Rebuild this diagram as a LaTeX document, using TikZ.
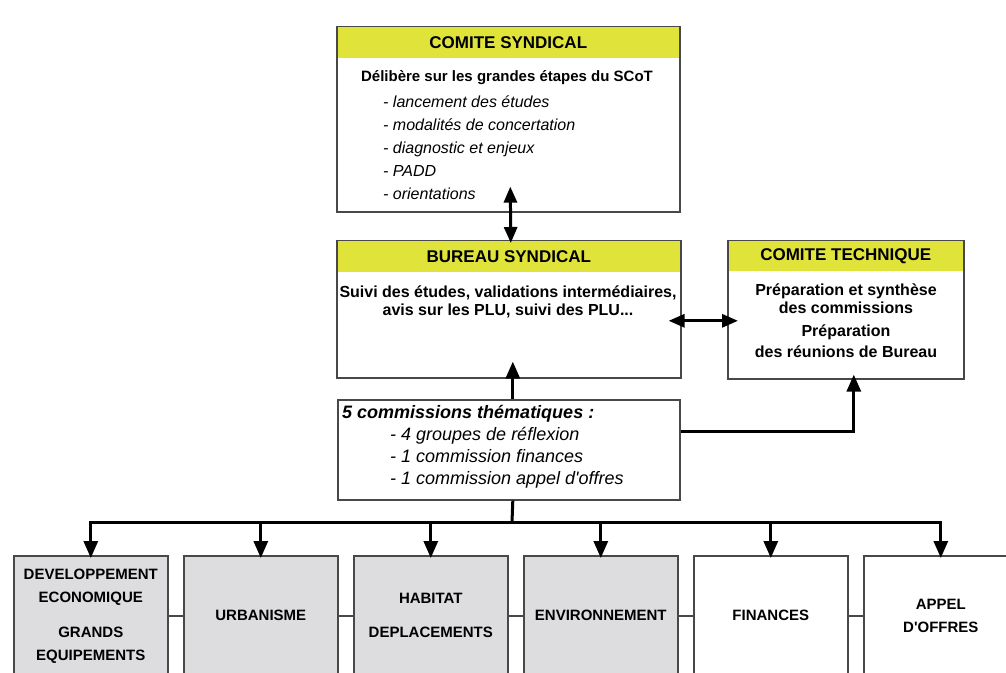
\documentclass[tikz,border=0pt]{standalone}
\usepackage{fontspec}
\setmainfont{Liberation Sans}
\usetikzlibrary{arrows.meta}

\definecolor{headyellow}{RGB}{224,228,58}
\definecolor{boxline}{RGB}{72,72,72}
\definecolor{groupgrey}{RGB}{221,221,223}

\tikzset{
  frame/.style={draw=boxline, line width=1.6pt, fill=white, anchor=north west, inner sep=0pt},
  band/.style={fill=headyellow, anchor=north, inner sep=0pt, font=\fontsize{17}{19}\selectfont\bfseries},
  txt/.style={inner sep=0pt, align=center, font=\fontsize{16}{18}\selectfont\bfseries},
  group/.style={frame, minimum width=154pt, minimum height=120pt, align=center, font=\fontsize{15}{23}\selectfont\bfseries},
  link/.style={line width=3pt, -{Triangle[length=17pt,width=14pt]}},
  both/.style={line width=3pt, {Triangle[length=16pt,width=13pt]}-{Triangle[length=16pt,width=13pt]}},
  tie/.style={draw=boxline, line width=1.5pt},
}

\begin{document}
\begin{tikzpicture}[x=1pt, y=-1pt]
\useasboundingbox (0,0) rectangle (1006,672);
\fill[white] (0,0) rectangle (1006,672);

% comite syndical
\node[frame, minimum width=343pt, minimum height=185pt] (cs) at (336,26) {};
\node[band, minimum width=341pt, minimum height=31pt] (cshead) at ([yshift=-0.8pt]cs.north) {COMITE SYNDICAL};
\node[txt, font=\fontsize{15}{18}\selectfont\bfseries] (cstext) at (507,78) {Délibère sur les grandes étapes du SCoT};
\node[anchor=west, align=left, inner sep=0pt, font=\fontsize{16}{23}\selectfont\itshape] (cslist) at (383,148)
  {- lancement des études\\- modalités de concertation\\- diagnostic et enjeux\\- PADD\\- orientations};

% bureau syndical
\node[frame, minimum width=344pt, minimum height=137pt] (bs) at (336,240) {};
\node[band, minimum width=342pt, minimum height=31pt] (bshead) at ([yshift=-0.8pt]bs.north) {BUREAU SYNDICAL};
\node[txt] (bstext) at (508,302) {Suivi des études, validations intermédiaires,\\avis sur les PLU, suivi des PLU...};

% comite technique
\node[frame, minimum width=236pt, minimum height=138pt] (ct) at (727,240) {};
\node[band, minimum width=234pt, minimum height=30pt] (cthead) at ([yshift=-0.8pt]ct.north) {COMITE TECHNIQUE};
\node[txt] (cttext) at (846,299) {Préparation et synthèse\\des commissions};
\node[txt, font=\fontsize{16}{21}\selectfont\bfseries] (ctprep) at (846,341) {Préparation\\des réunions de Bureau};

% commissions
\node[frame, minimum width=342pt, minimum height=100pt] (cm) at (337,399) {};
\node[anchor=west, inner sep=0pt, font=\fontsize{18}{22}\selectfont\bfseries\itshape] (cmtitle) at (342,414) {5 commissions thématiques :};
\node[anchor=west, align=left, inner sep=0pt, font=\fontsize{18}{22}\selectfont\itshape] (cmlist) at (390,458)
  {- 4 groupes de réflexion\\- 1 commission finances\\- 1 commission appel d\textquotesingle offres};

% groupes
\node[group, fill=groupgrey] (g1) at (13,555) {DEVELOPPEMENT\\ECONOMIQUE\\[12pt]GRANDS\\EQUIPEMENTS};
\node[group, fill=groupgrey] (g2) at (183,555) {URBANISME};
\node[group, fill=groupgrey] (g3) at (353,555) {HABITAT\\[11pt]DEPLACEMENTS};
\node[group, fill=groupgrey] (g4) at (523,555) {ENVIRONNEMENT};
\node[group] (g5) at (693,555) {FINANCES};
\node[group] (g6) at (863,555) {APPEL\\D\textquotesingle OFFRES};

\draw[tie] (g1.east) -- (g2.west);
\draw[tie] (g2.east) -- (g3.west);
\draw[tie] (g3.east) -- (g4.west);
\draw[tie] (g4.east) -- (g5.west);
\draw[tie] (g5.east) -- (g6.west);

% liaisons
\draw[both] ([xshift=2pt,yshift=26pt]cs.south) -- ([xshift=2pt,yshift=-3pt]bs.north);
\draw[both] ([xshift=-13pt,yshift=-11.5pt]bs.east) -- ([xshift=11pt,yshift=-11pt]ct.west);
\draw[link] ([xshift=4pt]cm.north) -- ([xshift=4pt,yshift=17pt]bs.south);
\draw[link] ([yshift=18pt]cm.east) -| ([xshift=8pt,yshift=5pt]ct.south);

\coordinate (fork) at (512,522);
\draw[line width=3pt] ([xshift=4pt]cm.south) -- (fork);
\draw[link] (fork) -| ([yshift=-3pt]g1.north);
\draw[link] (fork) -| ([yshift=-3pt]g2.north);
\draw[link] (fork) -| ([yshift=-3pt]g3.north);
\draw[link] (fork) -| ([yshift=-3pt]g4.north);
\draw[link] (fork) -| ([yshift=-3pt]g5.north);
\draw[link] (fork) -| ([yshift=-3pt]g6.north);
\end{tikzpicture}
\end{document}
